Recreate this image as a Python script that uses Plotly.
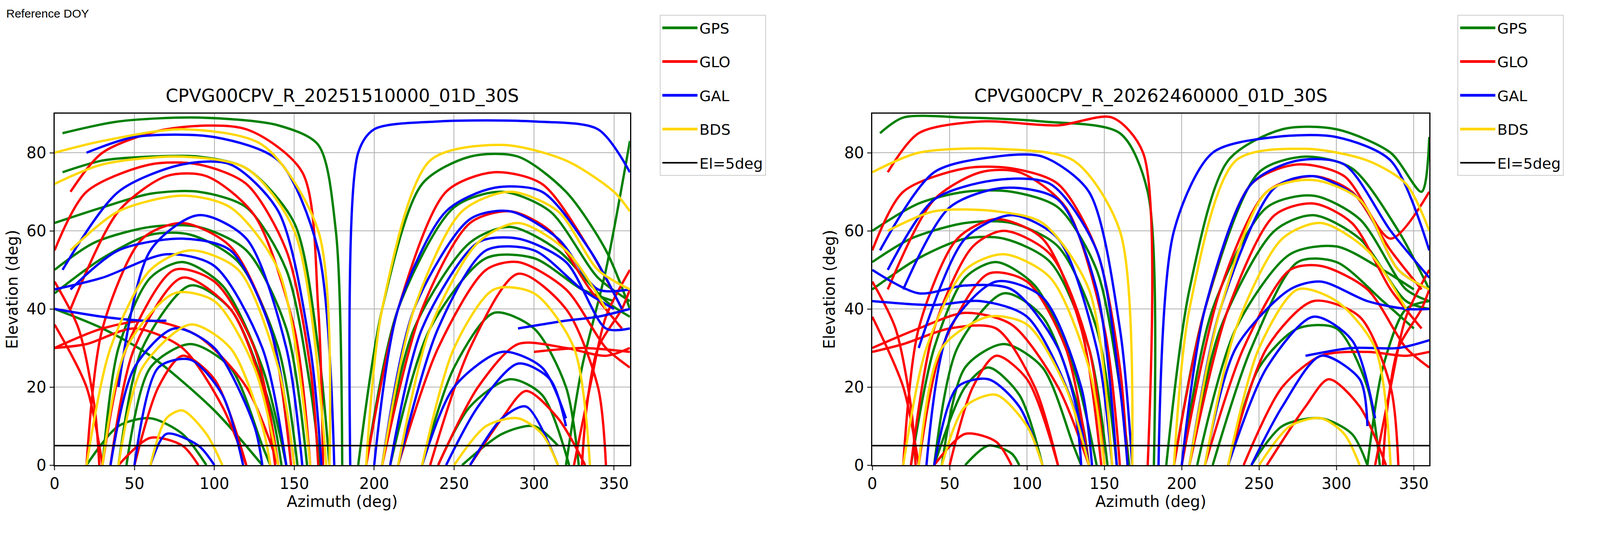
import plotly.graph_objects as go

# ---------------- data: tracks as [az, el] key points ----------------
P1_GPS = [
 [[5,75],[30,78],[60,79],[90,79],[120,76],[150,62],[165,30],[172,0]],
 [[0,62],[30,66],[60,69.5],[90,70],[120,66],[145,50],[160,20],[166,0]],
 [[0,50],[25,57],[60,61],[90,61],[120,55],[145,35],[158,0]],
 [[0,44],[30,53],[60,59],[85,59],[115,52],[140,30],[152,0]],
 [[30,0],[40,30],[60,48],[80,52],[105,46],[130,25],[145,0]],
 [[40,0],[55,30],[85,46],[110,40],[135,15],[142,0]],
 [[45,0],[60,25],[85,31],[110,25],[130,5],[135,0]],
 [[0,40],[30,35],[60,28],[100,14],[130,0]],
 [[20,0],[40,10],[60,12],[80,8],[95,0]],
 [[5,85],[40,88],[90,89],[140,87],[165,82],[176,60],[180,0]],
 [[190,0],[205,40],[230,72],[260,79],[290,79],[320,70],[345,55],[360,40]],
 [[195,0],[215,40],[250,66],[280,70],[310,65],[340,48],[360,42]],
 [[205,0],[225,35],[260,57],[285,61],[315,55],[345,42],[360,38]],
 [[210,0],[235,35],[270,53],[300,53],[330,45],[350,42]],
 [[230,0],[250,25],[275,39],[300,35],[320,20],[328,0]],
 [[240,0],[260,15],[285,22],[305,18],[322,0]],
 [[255,0],[280,8],[300,10],[315,5]],
 [[320,0],[330,25],[345,50],[360,83]],
]
P1_GLO = [
 [[0,55],[20,70],[60,77],[90,77],[120,72],[145,55],[160,25],[165,0]],
 [[10,40],[40,65],[70,74],[95,74],[125,64],[150,35],[160,0]],
 [[20,0],[30,35],[55,58],[80,62],[110,56],[135,35],[148,0]],
 [[30,0],[45,30],[75,50],[100,47],[125,30],[140,0]],
 [[35,0],[50,30],[80,48],[110,40],[130,20],[138,0]],
 [[0,30],[30,35],[60,37],[90,33],[120,20],[140,0]],
 [[0,30],[20,31],[50,35],[80,30],[105,15],[120,0]],
 [[50,0],[65,20],[80,28],[100,22],[120,0]],
 [[40,0],[60,7],[80,5],[90,0]],
 [[0,47],[15,35],[25,15],[28,0]],
 [[0,36],[20,20],[30,0]],
 [[10,70],[30,80],[70,86],[120,86],[155,75],[165,40],[168,0]],
 [[195,0],[215,40],[245,70],[275,75],[305,72],[335,55],[355,40]],
 [[205,0],[230,40],[260,62],[285,65],[310,60],[335,45],[355,35]],
 [[215,0],[240,30],[270,50],[290,52],[320,45],[345,30],[360,25]],
 [[235,0],[260,30],[290,49],[320,40],[340,20],[345,0]],
 [[240,0],[265,20],[290,31],[320,30],[345,28],[360,30]],
 [[260,0],[280,12],[295,19],[315,12],[332,0]],
 [[300,29],[330,30],[360,29]],
 [[330,0],[333,15],[340,30],[355,40],[360,45]],
 [[325,0],[335,20],[345,38],[360,50]],
]
P1_GAL = [
 [[20,80],[50,84],[100,84],[140,78],[165,55],[175,0]],
 [[5,50],[40,70],[80,77],[110,77],[140,65],[160,30],[167,0]],
 [[40,20],[60,55],[90,64],[120,58],[145,30],[155,0]],
 [[10,45],[40,55],[80,58],[110,55],[135,35],[150,0]],
 [[0,45],[30,48],[70,54],[100,51],[130,30],[145,0]],
 [[0,40],[30,38],[55,37],[70,37]],
 [[35,0],[50,25],[75,35],[100,30],[125,10],[130,0]],
 [[50,0],[65,25],[85,27],[105,18],[118,0]],
 [[60,0],[70,8],[90,5],[100,0]],
 [[185,0],[190,80],[200,86],[240,88],[300,88],[340,86],[360,75]],
 [[200,0],[215,40],[245,65],[275,71],[305,70],[335,55],[355,40]],
 [[205,0],[225,40],[260,63],[285,65],[315,58],[340,45],[360,45]],
 [[210,0],[230,35],[265,57],[290,58],[320,52],[345,35],[360,35]],
 [[215,0],[240,35],[270,55],[300,55],[330,45],[350,40]],
 [[230,0],[250,20],[280,29],[305,25],[320,12]],
 [[245,0],[265,15],[290,26],[310,22],[320,10]],
 [[260,0],[280,12],[295,15],[315,0]],
 [[290,35],[320,37],[340,38],[360,40]],
]
P1_BDS = [
 [[0,80],[30,83],[80,86],[130,82],[165,60],[172,0]],
 [[0,72],[30,77],[80,79],[120,76],[150,60],[170,0]],
 [[10,55],[40,65],[80,69],[110,66],[140,50],[160,0]],
 [[20,0],[35,30],[60,50],[85,55],[115,50],[140,25],[150,0]],
 [[30,0],[45,30],[75,44],[100,42],[125,25],[140,0]],
 [[40,0],[55,25],[85,36],[110,30],[130,10],[135,0]],
 [[60,0],[70,12],[80,14],[95,8],[105,0]],
 [[195,0],[205,40],[235,78],[280,82],[320,78],[350,70],[360,65]],
 [[205,0],[225,40],[255,65],[285,70],[315,65],[340,50],[360,45]],
 [[215,0],[235,35],[265,57],[290,62],[320,55],[345,40]],
 [[230,0],[250,30],[275,45],[300,44],[325,30],[335,0]],
 [[250,0],[270,10],[290,12],[305,8],[315,0]],
]

P2_GPS = [
 [[5,85],[20,89],[60,89],[110,88],[160,85],[178,70],[182,0]],
 [[0,60],[30,67],[60,70],[90,70],[120,66],[145,50],[160,20],[166,0]],
 [[0,52],[25,58],[60,62],[90,62],[120,56],[145,35],[158,0]],
 [[0,45],[30,53],[60,58],[85,58],[115,52],[140,30],[152,0]],
 [[25,0],[40,30],[60,48],[80,52],[105,46],[130,25],[145,0]],
 [[40,0],[55,30],[85,44],[110,38],[135,12],[140,0]],
 [[45,0],[60,25],[85,31],[110,25],[130,5],[135,0]],
 [[40,0],[60,20],[75,25],[95,18],[110,0]],
 [[60,0],[75,5],[90,3],[95,0]],
 [[190,0],[205,45],[230,78],[265,86],[300,86],[335,80],[355,70],[360,84]],
 [[195,0],[215,40],[250,75],[280,79],[310,76],[340,60],[360,45]],
 [[200,0],[220,40],[255,66],[285,69],[315,63],[345,45],[360,42]],
 [[205,0],[225,35],[260,60],[285,64],[315,58],[345,42],[360,40]],
 [[210,0],[235,35],[270,54],[300,56],[330,50],[350,45]],
 [[220,0],[245,30],[275,52],[300,52],[330,42],[350,35]],
 [[230,0],[250,25],[275,35],[300,35],[320,20],[328,0]],
 [[245,0],[265,10],[290,12],[310,8],[320,0]],
 [[320,0],[330,25],[345,40],[360,42]],
]
P2_GLO = [
 [[0,55],[20,70],[60,76],[90,76],[120,72],[145,55],[160,25],[165,0]],
 [[10,45],[40,68],[70,75],[95,75],[125,66],[150,35],[160,0]],
 [[20,0],[30,35],[55,58],[80,63],[110,58],[135,35],[148,0]],
 [[25,0],[40,35],[65,56],[85,60],[115,54],[140,30],[150,0]],
 [[30,0],[45,30],[75,49],[100,47],[125,30],[140,0]],
 [[0,30],[30,35],[60,39],[90,36],[120,20],[140,0]],
 [[0,29],[20,31],[50,35],[80,35],[105,20],[120,0]],
 [[50,0],[65,20],[80,28],[100,22],[120,0]],
 [[40,0],[60,8],[80,6],[90,0]],
 [[0,47],[15,35],[25,15],[28,0]],
 [[0,38],[20,20],[30,0]],
 [[10,75],[30,85],[70,88],[120,87],[155,89],[175,80],[178,0]],
 [[195,0],[215,40],[245,72],[275,77],[305,74],[335,58],[360,70]],
 [[200,0],[225,45],[255,70],[285,74],[310,70],[335,55],[355,45]],
 [[205,0],[230,40],[260,64],[285,67],[310,62],[335,45],[355,35]],
 [[215,0],[240,30],[270,50],[290,51],[320,45],[345,30],[360,25]],
 [[230,0],[255,30],[285,42],[315,38],[335,20],[340,0]],
 [[240,0],[265,20],[290,28],[320,29],[345,28],[360,29]],
 [[255,0],[280,15],[295,22],[315,15],[332,0]],
 [[330,0],[333,15],[340,30],[355,40],[360,45]],
 [[325,0],[335,20],[345,38],[360,50]],
]
P2_GAL = [
 [[5,55],[40,75],[80,79],[110,79],[140,70],[160,35],[168,0]],
 [[10,50],[40,68],[80,73],[115,72],[145,55],[160,20],[165,0]],
 [[20,45],[50,66],[85,71],[120,68],[145,45],[158,0]],
 [[30,30],[60,58],[90,64],[120,58],[145,30],[155,0]],
 [[35,0],[50,35],[80,47],[110,43],[135,20],[142,0]],
 [[0,50],[30,44],[60,46],[90,45],[120,30],[140,0]],
 [[0,42],[40,41],[70,42],[100,38],[130,15],[135,0]],
 [[40,0],[55,20],[75,22],[95,15],[110,0]],
 [[185,0],[195,60],[220,80],[260,84],[300,84],[335,78],[360,55]],
 [[200,0],[215,40],[245,72],[275,78],[305,77],[335,60],[360,48]],
 [[205,0],[225,40],[260,71],[285,74],[315,68],[340,50],[360,45]],
 [[215,0],[235,30],[270,45],[290,47],[320,42],[345,40],[360,40]],
 [[230,0],[255,25],[285,38],[310,32],[325,12]],
 [[245,0],[265,15],[290,28],[315,22],[320,10]],
 [[280,28],[310,30],[340,30],[360,32]],
]
P2_BDS = [
 [[0,75],[30,80],[80,81],[130,78],[160,60],[168,0]],
 [[10,60],[40,65],[80,65],[110,62],[140,45],[155,0]],
 [[20,0],[35,30],[60,50],[85,54],[115,48],[140,25],[150,0]],
 [[30,0],[45,30],[75,38],[100,36],[125,20],[140,0]],
 [[45,0],[60,15],[80,18],[100,10],[110,0]],
 [[195,0],[205,40],[235,78],[280,81],[320,78],[345,72],[360,60]],
 [[205,0],[225,40],[255,70],[285,73],[315,68],[340,50],[360,45]],
 [[215,0],[235,35],[265,58],[290,62],[320,55],[345,40]],
 [[230,0],[250,30],[275,45],[300,42],[325,30],[335,0]],
 [[250,0],[270,10],[290,12],[305,8],[315,0]],
]

SYSTEMS = ["GPS", "GLO", "GAL", "BDS"]
COLORS = {"GPS": "green", "GLO": "red", "GAL": "blue", "BDS": "gold"}
TITLES = ["CPVG00CPV_R_20251510000_01D_30S", "CPVG00CPV_R_20262460000_01D_30S"]
CUTOFF = 5
PANELS = [
    {"GPS": P1_GPS, "GLO": P1_GLO, "GAL": P1_GAL, "BDS": P1_BDS},
    {"GPS": P2_GPS, "GLO": P2_GLO, "GAL": P2_GAL, "BDS": P2_BDS},
]

W, H = 5228, 1398
FONT = "DejaVu Sans"
fig = go.Figure()
xdoms = [[168/W, 2048/W], [2840/W, 4660/W]]
ydom = [1 - 1183/H, 1 - 283/H]

for i, panel in enumerate(PANELS):
    xa = "x" if i == 0 else "x2"
    ya = "y" if i == 0 else "y2"
    lg = "legend" if i == 0 else "legend2"
    for s in SYSTEMS:
        for k, tr in enumerate(panel[s]):
            fig.add_trace(go.Scatter(
                x=[p[0] for p in tr], y=[p[1] for p in tr], mode="lines",
                line=dict(color=COLORS[s], width=6, shape="spline", smoothing=0.8),
                xaxis=xa, yaxis=ya, showlegend=False, hoverinfo="skip"))
        fig.add_trace(go.Scatter(x=[None], y=[None], mode="lines", name=s,
                                 line=dict(color=COLORS[s], width=7), legendgroup=s + str(i),
                                 xaxis=xa, yaxis=ya, legend=lg))
    fig.add_trace(go.Scatter(x=[0, 360], y=[CUTOFF, CUTOFF], mode="lines", name="El=5deg",
                             line=dict(color="black", width=4), legendgroup="el" + str(i),
                             xaxis=xa, yaxis=ya, legend=lg))

axis_common = dict(showline=True, mirror=True, linecolor="black", linewidth=3,
                   showgrid=True, gridcolor="#b0b0b0", gridwidth=2, ticks="outside",
                   ticklen=10, tickwidth=3, tickfont=dict(size=40, family=FONT, color="black"),
                   zeroline=False, automargin=False)
for i in range(2):
    sfx = "" if i == 0 else "2"
    fig.update_layout(**{
        "xaxis" + sfx: dict(axis_common, domain=xdoms[i], range=[0, 360], dtick=50,
                           anchor="y" + sfx,
                           title=dict(text="Azimuth (deg)", standoff=8,
                                      font=dict(size=40, family=FONT, color="black"))),
        "yaxis" + sfx: dict(axis_common, domain=ydom, range=[0, 90], dtick=20,
                           anchor="x" + sfx,
                           title=dict(text="Elevation (deg)", standoff=12,
                                      font=dict(size=40, family=FONT, color="black"))),
    })
    fig.add_annotation(text=TITLES[i], xref="paper", yref="paper",
                       x=(xdoms[i][0] + xdoms[i][1]) / 2, y=ydom[1] + 0.012,
                       xanchor="center", yanchor="bottom", showarrow=False,
                       font=dict(size=46, family=FONT, color="black"))

leg = dict(font=dict(size=38, family=FONT, color="black"), bgcolor="white",
           bordercolor="#cccccc", borderwidth=2, xanchor="left", yanchor="top",
           itemwidth=90, tracegroupgap=34)
fig.update_layout(
    legend=dict(leg, x=2145/W, y=1 - 30/H),
    legend2=dict(leg, x=4752/W, y=1 - 30/H),
    autosize=True, plot_bgcolor="white", paper_bgcolor="white",
    margin=dict(l=0, r=0, t=0, b=0),
)
fig.add_annotation(text="Reference DOY", xref="paper", yref="paper", x=8/W, y=1 - 8/H,
                   xanchor="left", yanchor="top", showarrow=False,
                   font=dict(size=30, family="Liberation Sans", color="black"))
fig.write_html("out.html", default_width="100vw", default_height="100vh")
